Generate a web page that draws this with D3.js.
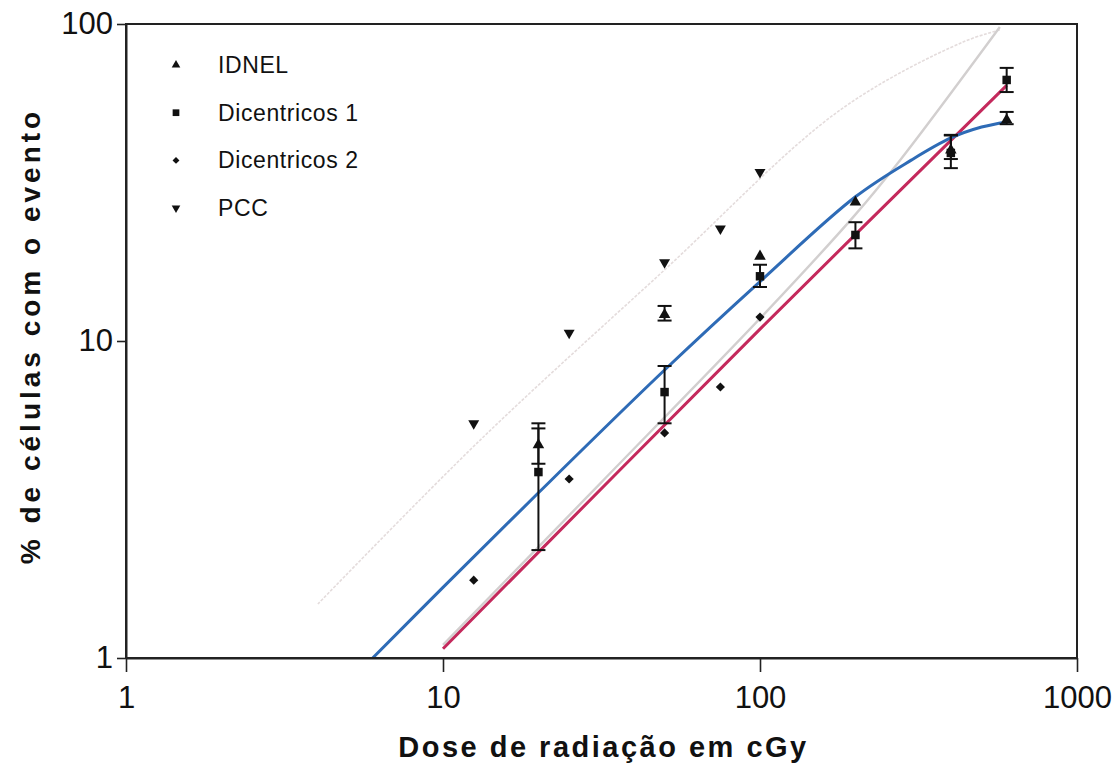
<!DOCTYPE html>
<html>
<head>
<meta charset="UTF-8">
<title>Dose de radiação</title>
<script src="https://cdn.jsdelivr.net/npm/d3@7"></script>
<style type="text/css">
	body{ margin:0; background:#fff; }
	text{ font-family: "Liberation Sans", Arial, sans-serif; }
</style>
</head>
<body>
<script>
// series
var idnelX = [20, 50, 100, 200, 400, 600];
var idnelY = [4.7, 12.1, 18.5, 27.4, 40, 49.8];
var idnelLo = [4.1, 11.6, null, null, 37.5, 48.3];
var idnelHi = [5.3, 12.9, null, null, 44.5, 52.8];

var dic1X = [20, 50, 100, 200, 400, 600];
var dic1Y = [3.86, 6.9, 16.0, 21.6, 39.2, 66.6];
var dic1Lo = [2.19, 5.5, 14.8, 19.6, 35.1, 61.0];
var dic1Hi = [5.5, 8.34, 17.4, 23.7, 44.7, 72.7];

var dic2X = [12.5, 25, 50, 75, 100];
var dic2Y = [1.76, 3.67, 5.13, 7.16, 11.9];

var pccX = [12.5, 25, 50, 75, 100];
var pccY = [5.5, 10.6, 17.7, 22.6, 34.1];

// fitted curves
var fitIdnelX = [6, 10, 20, 50, 100, 200, 300, 400, 500, 600];
var fitIdnelY = [1.0, 1.67, 3.32, 8.1, 15.4, 28.5, 37.2, 43.7, 47.3, 49.1];
var fitDic1X = [10, 100, 600];
var fitDic1Y = [1.07, 10.9, 64];
var fitDic2X = [10, 31.3, 105, 199.5, 276.6, 571];
var fitDic2Y = [1.1, 3.55, 12.4, 25.0, 37.2, 97.9];
var fitPccX = [4.03, 13.1, 49.8, 178.8, 436.7, 571];
var fitPccY = [1.48, 4.87, 16.7, 53.5, 87.7, 95.7];

var xTicks = [1, 10, 100, 1000];
var yTicks = [1, 10, 100];
var legendNames = ["IDNEL", "Dicentricos 1", "Dicentricos 2", "PCC"];

var width = 1118, height = 767;
var mLeft = 126, mRight = 1077, mTop = 24, mBottom = 658;

var svg = d3.select("body").append("svg")
	.attr("width", width)
	.attr("height", height);

var x = d3.scaleLog().domain([1, 1000]).range([mLeft, mRight]);
var y = d3.scaleLog().domain([1, 100]).range([mBottom, mTop]);

function zip(xs, ys){
	return xs.map(function(d, i){ return [d, ys[i]]; });
}

svg.append("clipPath").attr("id", "plotclip")
	.append("rect")
	.attr("x", mLeft).attr("y", mTop)
	.attr("width", mRight - mLeft).attr("height", mBottom - mTop);

var plot = svg.append("g").attr("clip-path", "url(#plotclip)");

var line = d3.line()
	.x(function(d){ return x(d[0]); })
	.y(function(d){ return y(d[1]); })
	.curve(d3.curveCatmullRom.alpha(0.5));

// faint fits first
plot.append("path")
	.datum(zip(fitPccX, fitPccY))
	.attr("d", line)
	.attr("fill", "none")
	.attr("stroke", "#e4dcdc")
	.attr("stroke-width", 1.6)
	.attr("stroke-dasharray", "3,1.5");

plot.append("path")
	.datum(zip(fitDic2X, fitDic2Y))
	.attr("d", line)
	.attr("fill", "none")
	.attr("stroke", "#d2cfcf")
	.attr("stroke-width", 2.4);

plot.append("path")
	.datum(zip(fitDic1X, fitDic1Y))
	.attr("d", line)
	.attr("fill", "none")
	.attr("stroke", "#c4295c")
	.attr("stroke-width", 3);

plot.append("path")
	.datum(zip(fitIdnelX, fitIdnelY))
	.attr("d", line)
	.attr("fill", "none")
	.attr("stroke", "#2e6bb6")
	.attr("stroke-width", 3);

// error bars
function errorBars(xs, los, his){
	var g = svg.append("g").attr("stroke", "#111").attr("stroke-width", 2);
	xs.forEach(function(d, i){
		if(los[i] == null) return;
		var px = x(d);
		g.append("line").attr("x1", px).attr("x2", px)
			.attr("y1", y(los[i])).attr("y2", y(his[i]));
		g.append("line").attr("x1", px - 7).attr("x2", px + 7)
			.attr("y1", y(los[i])).attr("y2", y(los[i]));
		g.append("line").attr("x1", px - 7).attr("x2", px + 7)
			.attr("y1", y(his[i])).attr("y2", y(his[i]));
	});
}
errorBars(dic1X, dic1Lo, dic1Hi);
errorBars(idnelX, idnelLo, idnelHi);

// markers
var symTri = d3.symbol().type(d3.symbolTriangle);
var symSq = d3.symbol().type(d3.symbolSquare);

function markers(xs, ys, path, rot){
	svg.append("g").selectAll("path")
		.data(zip(xs, ys))
		.enter()
			.append("path")
			.attr("d", path)
			.attr("fill", "#111")
			.attr("transform", function(d){
				return "translate(" + x(d[0]) + "," + y(d[1]) + ") rotate(" + rot + ")";
			});
}
markers(dic2X, dic2Y, symSq.size(42)(), 45);
markers(dic1X, dic1Y, symSq.size(72)(), 0);
markers(idnelX, idnelY, symTri.size(58)(), 0);
markers(pccX, pccY, symTri.size(52)(), 180);

// frame
svg.append("rect")
	.attr("x", mLeft).attr("y", mTop)
	.attr("width", mRight - mLeft).attr("height", mBottom - mTop)
	.attr("fill", "none")
	.attr("stroke", "#222")
	.attr("stroke-width", 2);

// axes
var xAxis = svg.append("g")
	.attr("transform", "translate(0," + mBottom + ")")
	.call(d3.axisBottom(x).tickValues(xTicks).tickFormat(d3.format("d")).tickSize(14).tickSizeOuter(0));
var yAxis = svg.append("g")
	.attr("transform", "translate(" + mLeft + ",0)")
	.call(d3.axisLeft(y).tickValues(yTicks).tickFormat(d3.format("d")).tickSize(9).tickSizeOuter(0));

[xAxis, yAxis].forEach(function(a){
	a.select(".domain").attr("stroke", "#222").attr("stroke-width", 2);
	a.selectAll(".tick line").attr("stroke", "#222").attr("stroke-width", 1.6);
	a.selectAll(".tick text")
		.attr("fill", "#111")
		.attr("font-size", "31px")
		.attr("font-family", "Liberation Sans, Arial, sans-serif");
});
xAxis.selectAll(".tick text").attr("dy", "1.05em");
yAxis.selectAll(".tick text").attr("x", -13);

// axis titles
svg.append("text")
	.attr("x", (mLeft + mRight) / 2 + 2)
	.attr("y", 757)
	.attr("text-anchor", "middle")
	.attr("font-size", "29px")
	.attr("font-weight", "bold")
	.attr("letter-spacing", "2.5px")
	.attr("fill", "#111")
	.text("Dose de radiação em cGy");

svg.append("text")
	.attr("transform", "translate(40,336) rotate(-90)")
	.attr("text-anchor", "middle")
	.attr("font-size", "28px")
	.attr("font-weight", "bold")
	.attr("letter-spacing", "4px")
	.attr("fill", "#111")
	.text("% de células com o evento");

// legend
var legendSyms = [
	{ d: symTri.size(32)(), rot: 0 },
	{ d: symSq.size(45)(), rot: 0 },
	{ d: symSq.size(24)(), rot: 45 },
	{ d: symTri.size(32)(), rot: 180 }
];
var legend = svg.append("g");
legendNames.forEach(function(name, i){
	var ly = 65 + i * 47.7;
	legend.append("path")
		.attr("d", legendSyms[i].d)
		.attr("fill", "#111")
		.attr("transform", "translate(176," + ly + ") rotate(" + legendSyms[i].rot + ")");
	legend.append("text")
		.attr("x", 218)
		.attr("y", ly + 8)
		.attr("font-size", "23px")
		.attr("letter-spacing", "0.6px")
		.attr("fill", "#111")
		.text(name);
});
</script>
</body>
</html>
